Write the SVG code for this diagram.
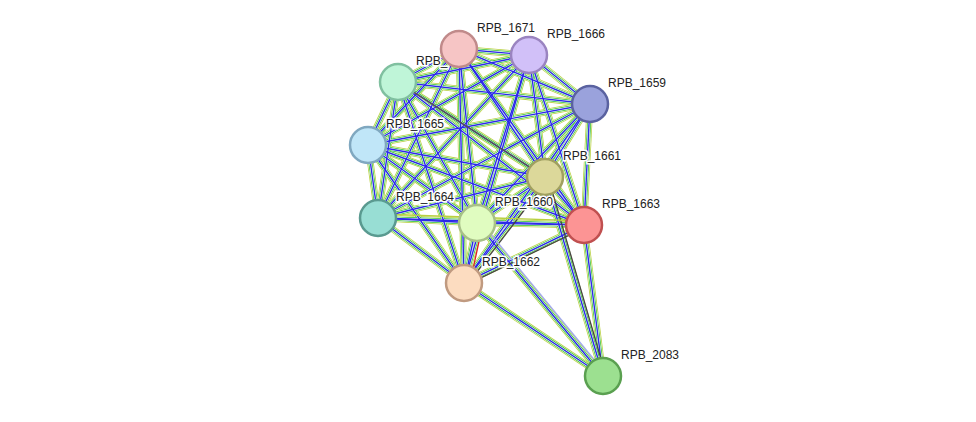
<svg xmlns="http://www.w3.org/2000/svg" xmlns:xlink="http://www.w3.org/1999/xlink" width="976" height="422" viewBox="0 0 976 422">
<style>
.n{stroke-width:2.5}
.l{font-family:"Liberation Sans",Arial,sans-serif;font-size:12px;fill:#222;stroke:#fff;stroke-width:3;paint-order:stroke}
</style>
<defs>
<g id="E">
<line x1="459" y1="49" x2="529" y2="55"/><line x1="459" y1="49" x2="590" y2="104"/><line x1="459" y1="49" x2="398" y2="82"/><line x1="459" y1="49" x2="368" y2="145"/><line x1="459" y1="49" x2="545" y2="177"/><line x1="459" y1="49" x2="584" y2="225"/><line x1="459" y1="49" x2="378" y2="218"/><line x1="459" y1="49" x2="477" y2="223"/><line x1="459" y1="49" x2="464" y2="283"/>
<line x1="529" y1="55" x2="590" y2="104"/><line x1="529" y1="55" x2="398" y2="82"/><line x1="529" y1="55" x2="368" y2="145"/><line x1="529" y1="55" x2="545" y2="177"/><line x1="529" y1="55" x2="584" y2="225"/><line x1="529" y1="55" x2="378" y2="218"/><line x1="529" y1="55" x2="477" y2="223"/><line x1="529" y1="55" x2="464" y2="283"/>
<line x1="590" y1="104" x2="398" y2="82"/><line x1="590" y1="104" x2="368" y2="145"/><line x1="590" y1="104" x2="545" y2="177"/><line x1="590" y1="104" x2="584" y2="225"/><line x1="590" y1="104" x2="378" y2="218"/><line x1="590" y1="104" x2="477" y2="223"/><line x1="590" y1="104" x2="464" y2="283"/>
<line x1="398" y1="82" x2="368" y2="145"/><line x1="398" y1="82" x2="545" y2="177"/><line x1="398" y1="82" x2="584" y2="225"/><line x1="398" y1="82" x2="378" y2="218"/><line x1="398" y1="82" x2="477" y2="223"/><line x1="398" y1="82" x2="464" y2="283"/>
<line x1="368" y1="145" x2="545" y2="177"/><line x1="368" y1="145" x2="584" y2="225"/><line x1="368" y1="145" x2="378" y2="218"/><line x1="368" y1="145" x2="477" y2="223"/><line x1="368" y1="145" x2="464" y2="283"/>
<line x1="545" y1="177" x2="584" y2="225"/><line x1="545" y1="177" x2="378" y2="218"/><line x1="545" y1="177" x2="477" y2="223"/><line x1="545" y1="177" x2="464" y2="283"/>
<line x1="584" y1="225" x2="378" y2="218"/><line x1="584" y1="225" x2="477" y2="223"/><line x1="584" y1="225" x2="464" y2="283"/>
<line x1="378" y1="218" x2="477" y2="223"/><line x1="378" y1="218" x2="464" y2="283"/>
<line x1="477" y1="223" x2="464" y2="283"/>
<line x1="603" y1="376" x2="545" y2="177"/><line x1="603" y1="376" x2="584" y2="225"/><line x1="603" y1="376" x2="477" y2="223"/><line x1="603" y1="376" x2="464" y2="283"/>
</g>
</defs>
<rect width="976" height="422" fill="#fff"/>
<g id="connectors">
<use xlink:href="#E" stroke="#b8d040" stroke-width="6.5"/>
<use xlink:href="#E" stroke="#fff" stroke-width="5"/>
<use xlink:href="#E" stroke="#30c030" stroke-width="4"/>
<use xlink:href="#E" stroke="#fff" stroke-width="2.5"/>
<use xlink:href="#E" stroke="#2a2ae8" stroke-width="1.4"/>
<line x1="398" y1="82" x2="545" y2="177" stroke="#555" stroke-width="1.5"/>
<line x1="477" y1="223" x2="464" y2="283" stroke="#e02020" stroke-width="1.3" transform="translate(6,0)"/>
<line x1="545" y1="177" x2="464" y2="283" stroke="#444" stroke-width="1.3" transform="translate(3,2)"/>
<line x1="584" y1="225" x2="464" y2="283" stroke="#444" stroke-width="1.3" transform="translate(0,3)"/>
<line x1="545" y1="177" x2="603" y2="376" stroke="#444" stroke-width="1.3" transform="translate(3,0)"/>
<line x1="477" y1="223" x2="603" y2="376" stroke="#a0a8f0" stroke-width="1.3" transform="translate(3,-2)"/>
<line x1="378" y1="218" x2="584" y2="225" stroke="#b8d040" stroke-width="1.3" transform="translate(0,-4)"/>
</g>
<g id="RPB_1671"><circle class="n" cx="459" cy="49" r="18" fill="#f6c5c5" stroke="#c08a8a"/><text class="l" x="477" y="32">RPB_1671</text></g>
<g id="RPB_1666"><circle class="n" cx="529" cy="55" r="18" fill="#d1c0f8" stroke="#9a84c0"/><text class="l" x="547" y="38">RPB_1666</text></g>
<g id="RPB_1659"><circle class="n" cx="590" cy="104" r="18" fill="#9aa2dc" stroke="#5a62a0"/><text class="l" x="608" y="87">RPB_1659</text></g>
<g id="RPB_x"><text class="l" x="416" y="65">RPB_</text><circle class="n" cx="398" cy="82" r="18" fill="#bff5d8" stroke="#80c0a0"/></g>
<g id="RPB_1665"><circle class="n" cx="368" cy="145" r="18" fill="#c0e6f8" stroke="#80a8c0"/><text class="l" x="386" y="128">RPB_1665</text></g>
<g id="RPB_1661"><circle class="n" cx="545" cy="177" r="18" fill="#dcd89a" stroke="#a0a060"/><text class="l" x="563" y="160">RPB_1661</text></g>
<g id="RPB_1663"><circle class="n" cx="584" cy="225" r="18" fill="#fc9494" stroke="#c05050"/><text class="l" x="602" y="208">RPB_1663</text></g>
<g id="RPB_1664"><circle class="n" cx="378" cy="218" r="18" fill="#98ded4" stroke="#5a9a90"/><text class="l" x="396" y="201">RPB_1664</text></g>
<g id="RPB_1660"><circle class="n" cx="477" cy="223" r="18" fill="#e0fcc0" stroke="#a8c088"/><text class="l" x="495" y="206">RPB_1660</text></g>
<g id="RPB_1662"><circle class="n" cx="464" cy="283" r="18" fill="#fcdcc0" stroke="#c09a80"/><text class="l" x="482" y="266">RPB_1662</text></g>
<g id="RPB_2083"><circle class="n" cx="603" cy="376" r="18" fill="#9ce090" stroke="#5aa050"/><text class="l" x="621" y="359">RPB_2083</text></g>
</svg>
